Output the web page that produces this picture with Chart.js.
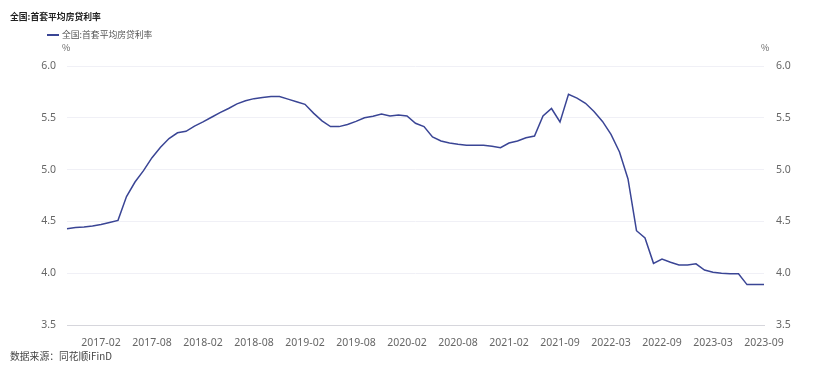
<!DOCTYPE html>
<html>
<head>
<meta charset="utf-8">
<script src="https://cdn.jsdelivr.net/npm/chart.js@4"></script>
<style>
  body { margin: 0; background: #fff; }
  #wrap { position: relative; width: 832px; height: 376px; }
  #wrap canvas { position: absolute; left: 0; top: 0; }
  .txt { position: absolute; font-family: "Noto Sans CJK SC", "Noto Sans", sans-serif; white-space: nowrap; }
  #title { left: 10px; top: 10px; font-size: 8.8px; font-weight: bold; color: #222; }
  #legend { left: 47px; top: 28px; font-size: 8.8px; color: #555; }
  #legend i { display: inline-block; width: 12px; height: 2px; background: #3a4595; vertical-align: middle; margin-right: 3px; position: relative; top: -1px; }
  .unit { top: 41px; font-size: 9px; color: #666; }
  #source { left: 10px; top: 349px; font-size: 9.8px; color: #444; }
</style>
</head>
<body>
<div id="wrap">
  <canvas id="c" width="832" height="376"></canvas>
  <div class="txt" id="title">全国:首套平均房贷利率</div>
  <div class="txt" id="legend"><i></i>全国:首套平均房贷利率</div>
  <div class="txt unit" style="left:62px">%</div>
  <div class="txt unit" style="left:761px">%</div>
  <div class="txt" id="source">数据来源：同花顺iFinD</div>
</div>
<script>
// months (one month missing in 2021, as in the source)
const months = [
  "2016-10","2016-11","2016-12",
  "2017-01","2017-02","2017-03","2017-04","2017-05","2017-06","2017-07","2017-08","2017-09","2017-10","2017-11","2017-12",
  "2018-01","2018-02","2018-03","2018-04","2018-05","2018-06","2018-07","2018-08","2018-09","2018-10","2018-11","2018-12",
  "2019-01","2019-02","2019-03","2019-04","2019-05","2019-06","2019-07","2019-08","2019-09","2019-10","2019-11","2019-12",
  "2020-01","2020-02","2020-03","2020-04","2020-05","2020-06","2020-07","2020-08","2020-09","2020-10","2020-11","2020-12",
  "2021-01","2021-02","2021-03","2021-04","2021-06","2021-07","2021-08","2021-09","2021-10","2021-11","2021-12",
  "2022-01","2022-02","2022-03","2022-04","2022-05","2022-06","2022-07","2022-08","2022-09","2022-10","2022-11","2022-12",
  "2023-01","2023-02","2023-03","2023-04","2023-05","2023-06","2023-07","2023-08","2023-09"
];

// 首套平均房贷利率 (%)
const rate = [
  4.43, 4.44, 4.445,
  4.455, 4.47, 4.49, 4.51, 4.74, 4.88, 4.99, 5.115, 5.215, 5.30, 5.355, 5.37,
  5.42, 5.46, 5.505, 5.55, 5.59, 5.635, 5.665, 5.685, 5.695, 5.705, 5.705, 5.68,
  5.655, 5.63, 5.545, 5.47, 5.415, 5.415, 5.435, 5.465, 5.50, 5.515, 5.537, 5.517,
  5.527, 5.517, 5.447, 5.415, 5.315, 5.276, 5.257, 5.244, 5.234, 5.234, 5.234, 5.225,
  5.212, 5.257, 5.276, 5.308, 5.324, 5.517, 5.59, 5.46, 5.727, 5.69, 5.64,
  5.56, 5.465, 5.34, 5.17, 4.91, 4.41, 4.34, 4.095, 4.137, 4.105, 4.08, 4.08,
  4.09, 4.03, 4.01, 4.0, 3.995, 3.995, 3.89, 3.89, 3.89
];

const yTicks = [3.5, 4.0, 4.5, 5.0, 5.5, 6.0];

const tickFont = { family: "Noto Sans", size: 10.5 };

new Chart(document.getElementById("c"), {
    type: 'line',
    data: {
        labels: months,
        datasets: [{
            label: "全国:首套平均房贷利率",
            data: rate,
            borderColor: "#3a4595",
            borderWidth: 1.5,
            pointRadius: 0,
            tension: 0,
            yAxisID: 'y'
        }]
    },
    options: {
        responsive: false,
        animation: false,
        layout: { padding: { top: 66, bottom: 0, left: 0, right: 0 } },
        plugins: {
            legend: { display: false },
            tooltip: { enabled: false }
        },
        scales: {
            x: {
                grid: { display: false },
                border: { display: true, color: "#d6d6dc" },
                afterFit: s => { s.height = 51; },
                ticks: {
                    autoSkip: false,
                    maxRotation: 0,
                    padding: 4,
                    color: "#666",
                    font: tickFont,
                    callback: function (v, i) { return (i - 4) % 6 === 0 ? months[i] : null; }
                }
            },
            y: {
                position: 'left',
                min: yTicks[0],
                max: yTicks[yTicks.length - 1],
                afterFit: s => { s.width = 67; },
                afterBuildTicks: s => { s.ticks = yTicks.map(v => ({ value: v })); },
                border: { display: false },
                grid: { color: "#f0f0f6", drawTicks: false },
                ticks: { padding: 11, color: "#666", font: tickFont, callback: v => v.toFixed(1) }
            },
            y2: {
                position: 'right',
                min: yTicks[0],
                max: yTicks[yTicks.length - 1],
                afterFit: s => { s.width = 68; },
                afterBuildTicks: s => { s.ticks = yTicks.map(v => ({ value: v })); },
                border: { display: false },
                grid: { display: false, drawTicks: false },
                ticks: { padding: 12, color: "#666", font: tickFont, callback: v => v.toFixed(1) }
            }
        }
    }
});
</script>
</body>
</html>
